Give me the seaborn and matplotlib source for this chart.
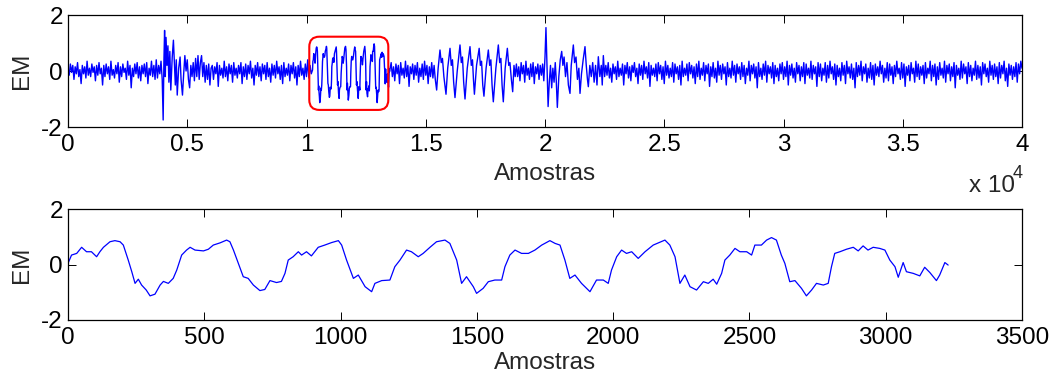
import numpy as np
import pandas as pd
import matplotlib
matplotlib.use("Agg")
import matplotlib.pyplot as plt
import seaborn as sns
from matplotlib.patches import FancyBboxPatch
from matplotlib.transforms import IdentityTransform

# ---------------- data ----------------
# Bottom panel: zoomed EMG segment (sample index, value)
bot_x = [0, 13, 32, 50, 68, 86, 105, 117, 130, 154,
         172, 191, 203, 221, 234, 246, 258, 270, 287, 301,
         319, 338, 350, 368, 386, 399, 417, 435, 448, 466,
         497, 515, 533, 558, 582, 594, 607, 625, 643, 661,
         680, 704, 722, 741, 765, 783, 796, 808, 826, 845,
         857, 875, 893, 918, 942, 967, 992, 1004, 1022, 1047,
         1065, 1090, 1114, 1126, 1151, 1181, 1199, 1218, 1242, 1260,
         1285, 1303, 1328, 1352, 1383, 1401, 1426, 1444, 1462, 1487,
         1499, 1523, 1542, 1566, 1591, 1603, 1621, 1640, 1664, 1689,
         1713, 1738, 1768, 1787, 1805, 1823, 1841, 1860, 1884, 1915,
         1939, 1964, 1982, 1994, 2013, 2031, 2049, 2068, 2092, 2117,
         2147, 2190, 2208, 2227, 2245, 2263, 2282, 2306, 2331, 2349,
         2367, 2380, 2398, 2410, 2428, 2447, 2465, 2490, 2508, 2520,
         2544, 2563, 2581, 2599, 2617, 2630, 2648, 2667, 2691, 2709,
         2728, 2746, 2771, 2789, 2801, 2813, 2832, 2856, 2881, 2899,
         2917, 2935, 2954, 2978, 2997, 3015, 3034, 3046, 3064, 3076,
         3101, 3125, 3143, 3162, 3186, 3198, 3217, 3229]
bot_y = [0.04, 0.34, 0.40, 0.62, 0.46, 0.46, 0.28, 0.46, 0.62, 0.82,
         0.86, 0.82, 0.70, 0.16, -0.26, -0.68, -0.53, -0.74, -0.92, -1.13,
         -1.07, -0.74, -0.61, -0.68, -0.50, -0.20, 0.34, 0.52, 0.62, 0.52,
         0.49, 0.55, 0.70, 0.78, 0.88, 0.82, 0.52, 0.04, -0.44, -0.50,
         -0.74, -0.94, -0.90, -0.58, -0.65, -0.61, -0.32, 0.16, 0.28, 0.46,
         0.34, 0.46, 0.31, 0.62, 0.70, 0.79, 0.86, 0.70, 0.16, -0.50,
         -0.38, -0.80, -0.98, -0.68, -0.58, -0.56, -0.08, 0.16, 0.52, 0.46,
         0.28, 0.40, 0.62, 0.82, 0.88, 0.76, 0.16, -0.68, -0.44, -0.80,
         -1.04, -0.86, -0.62, -0.56, -0.56, -0.08, 0.34, 0.52, 0.40, 0.40,
         0.52, 0.70, 0.86, 0.76, 0.70, 0.16, -0.50, -0.38, -0.68, -0.98,
         -0.56, -0.56, -0.68, -0.20, 0.28, 0.52, 0.40, 0.46, 0.22, 0.46,
         0.70, 0.88, 0.70, 0.28, -0.68, -0.38, -0.80, -0.92, -0.62, -0.68,
         -0.53, -0.71, -0.32, 0.16, 0.34, 0.58, 0.46, 0.46, 0.34, 0.70,
         0.70, 0.88, 0.97, 0.88, 0.34, 0.04, -0.62, -0.58, -0.86, -1.13,
         -0.92, -0.68, -0.74, -0.68, -0.08, 0.40, 0.46, 0.55, 0.62, 0.49,
         0.67, 0.52, 0.62, 0.58, 0.52, 0.16, -0.08, -0.46, 0.07, -0.26,
         -0.32, -0.41, -0.10, -0.29, -0.58, -0.38, 0.07, -0.02]

# Top panel: the full recording. The zoomed segment above starts here:
BOX_START = 10254

# Baseline noise segments (start sample, values every 50 samples)
NOISE_STEP = 50
noise_a_start = 0
noise_a = [0.1, -0.15, 0.25, -0.05, 0.2, -0.3, 0.15, -0.1, 0.3, -0.2,
           0.05, -0.45, 0.2, -0.1, 0.15, -0.25, 0.35, -0.15, 0.1, -0.2,
           0.25, -0.05, 0.15, -0.35, 0.2, -0.15, 0.3, -0.1, 0.1, -0.5,
           0.2, -0.2, 0.25, -0.1, 0.15, -0.3, 0.35, -0.15, 0.05, -0.25,
           0.2, -0.1, 0.3, -0.4, 0.15, -0.2, 0.25, -0.05, 0.1, -0.3,
           0.35, -0.15, 0.2, -0.6, 0.1, -0.2, 0.25, -0.1, 0.3, -0.25,
           0.15, -0.35, 0.2, -0.1, 0.25, -0.2, 0.3, -0.45, 0.1, -0.15,
           0.35, -0.2, 0.2, -0.3, 0.4, -0.25, 0.2]
noise_b_start = 6050
noise_b = [0.2, -0.3, 0.15, -0.1, 0.3, -0.55, 0.2, -0.15, 0.1, -0.25,
           0.35, -0.2, 0.15, -0.35, 0.25, -0.1, 0.2, -0.4, 0.3, -0.15,
           0.1, -0.25, 0.2, -0.1, 0.3, -0.45, 0.15, -0.2, 0.25, -0.3,
           0.2, -0.1, 0.35, -0.25, 0.1, -0.5, 0.2, -0.15, 0.3, -0.2,
           0.15, -0.35, 0.25, -0.1, 0.2, -0.3, 0.3, -0.2, 0.1, -0.4,
           0.25, -0.15, 0.2, -0.25, 0.35, -0.1, 0.15, -0.3, 0.2, -0.45,
           0.3, -0.2, 0.1, -0.15, 0.25, -0.35, 0.2, -0.1, 0.3, -0.25,
           0.15, -0.5, 0.2, -0.2, 0.35, -0.15, 0.1, -0.3, 0.25, -0.2,
           0.4, -0.25, 0.2, -0.1]
noise_c_start = 13550
noise_c = [0.3, -0.2, 0.15, -0.35, 0.25, -0.1, 0.2, -0.45, 0.3, -0.15,
           0.1, -0.25, 0.35, -0.2, 0.2, -0.55, 0.15, -0.1, 0.25, -0.3,
           0.2, -0.15, 0.3, -0.4, 0.1, -0.2, 0.25, -0.3, 0.35, -0.15,
           0.2, -0.45, 0.15, -0.2, 0.3, -0.25]
noise_d_start = 18800
noise_d = [0.25, -0.2, 0.15, -0.35, 0.3, -0.1, 0.2, -0.4, 0.35, -0.15,
           0.1, -0.3, 0.25, -0.2, 0.3, -0.45, 0.15, -0.1, 0.25, -0.3,
           0.2, -0.15]
noise_e_start = 22550
noise_e = [0.2, -0.15, 0.3, -0.25, 0.1, -0.4, 0.25, -0.1, 0.15, -0.3,
           0.35, -0.2, 0.1, -0.15, 0.25, -0.5, 0.2, -0.1, 0.3, -0.25,
           0.15, -0.35, 0.2, -0.05, 0.3, -0.2, 0.1, -0.45, 0.25, -0.15,
           0.2, -0.3, 0.35, -0.1, 0.15, -0.25, 0.3, -0.55, 0.2, -0.15,
           0.1, -0.2, 0.25, -0.35, 0.3, -0.1, 0.2, -0.3, 0.15, -0.45,
           0.35, -0.15, 0.2, -0.25, 0.1, -0.2, 0.3, -0.4, 0.25, -0.1,
           0.15, -0.3, 0.2, -0.5, 0.35, -0.2, 0.1, -0.15, 0.25, -0.35,
           0.3, -0.1, 0.2, -0.25, 0.15, -0.45, 0.25, -0.2, 0.35, -0.3,
           0.1, -0.15, 0.3, -0.35, 0.2, -0.1, 0.25, -0.55, 0.15, -0.2,
           0.3, -0.25, 0.1, -0.4, 0.35, -0.15, 0.2, -0.3, 0.25, -0.1,
           0.15, -0.5, 0.3, -0.2, 0.1, -0.25, 0.35, -0.15, 0.2, -0.4,
           0.25, -0.1, 0.15, -0.3, 0.3, -0.2, 0.2, -0.45, 0.1, -0.15,
           0.35, -0.35, 0.2, -0.1, 0.25, -0.25, 0.15, -0.6, 0.3, -0.2,
           0.1, -0.3, 0.25, -0.15, 0.35, -0.4, 0.2, -0.1, 0.15, -0.25,
           0.3, -0.45, 0.2, -0.2, 0.1, -0.35, 0.25, -0.1, 0.3, -0.3,
           0.15, -0.2, 0.35, -0.5, 0.2, -0.15, 0.25, -0.25, 0.1, -0.4,
           0.3, -0.1, 0.2, -0.35, 0.15, -0.2, 0.3, -0.45, 0.25, -0.15,
           0.1, -0.25, 0.35, -0.3, 0.2, -0.1, 0.15, -0.55, 0.3, -0.2,
           0.25, -0.35, 0.1, -0.15, 0.3, -0.4, 0.2, -0.25, 0.35, -0.1,
           0.15, -0.3, 0.25, -0.5, 0.2, -0.2, 0.1, -0.35, 0.3, -0.15,
           0.2, -0.45, 0.35, -0.1, 0.15, -0.25, 0.25, -0.3, 0.1, -0.6,
           0.3, -0.2, 0.2, -0.15, 0.35, -0.35, 0.15, -0.1, 0.25, -0.4,
           0.1, -0.25, 0.3, -0.3, 0.2, -0.5, 0.25, -0.15, 0.15, -0.2,
           0.35, -0.1, 0.2, -0.4, 0.1, -0.25, 0.3, -0.35, 0.25, -0.15,
           0.15, -0.45, 0.2, -0.2, 0.35, -0.1, 0.1, -0.3, 0.3, -0.25,
           0.25, -0.55, 0.15, -0.15, 0.2, -0.35, 0.3, -0.1, 0.1, -0.4,
           0.35, -0.2, 0.25, -0.3, 0.15, -0.15, 0.2, -0.45, 0.3, -0.25,
           0.1, -0.1, 0.35, -0.35, 0.2, -0.2, 0.25, -0.5, 0.15, -0.3,
           0.3, -0.15, 0.1, -0.25, 0.35, -0.4, 0.2, -0.1, 0.25, -0.35,
           0.15, -0.2, 0.3, -0.6, 0.2, -0.15, 0.1, -0.3, 0.35, -0.25,
           0.25, -0.1, 0.15, -0.45, 0.3, -0.2, 0.2, -0.35, 0.1, -0.15,
           0.35, -0.3, 0.2, -0.25, 0.15, -0.5, 0.3, -0.1, 0.25, -0.2,
           0.1, -0.4, 0.35, -0.15, 0.2, -0.3, 0.25, -0.2, 0.15, -0.45,
           0.3, -0.25, 0.2, -0.1, 0.35, -0.35, 0.1, -0.55, 0.25, -0.15,
           0.2, -0.3, 0.15, -0.2, 0.3, -0.4, 0.25, -0.1, 0.35, 0.1]

# Bursts (sample, value)
b1_x = [3850, 3900, 3950, 3990, 4020, 4050, 4080, 4110, 4150, 4190,
        4230, 4270, 4310, 4370, 4420, 4460, 4500, 4540, 4580, 4640,
        4700, 4740, 4800, 4850, 4900, 4950, 5000, 5050, 5100, 5150,
        5200, 5250, 5300, 5350, 5400, 5450, 5500, 5550, 5600, 5650,
        5700, 5750, 5800, 5850, 5900, 5950, 6000]
b1_y = [-0.1, 0.35, -0.3, -1.75, 0.3, 1.45, -0.2, 1.2, 0.2, 0.9,
        -0.4, 0.7, -0.68, 0.5, 1.1, 0.3, -0.5, 0.4, -0.86, 0.1,
        0.5, -0.3, -0.86, -0.1, 0.55, 0.0, 0.4, -0.3, -0.6, 0.2,
        -0.2, 0.3, -0.35, 0.45, -0.2, 0.55, -0.3, 0.3, 0.55, -0.2,
        0.3, -0.4, 0.2, -0.3, 0.25, -0.5, 0.1]
b2_x = [15350, 15400, 15457, 15520, 15597, 15650, 15700, 15760, 15849, 15920,
        16017, 16070, 16120, 16170, 16226, 16320, 16436, 16490, 16540, 16590,
        16646, 16740, 16855, 16910, 16960, 17000, 17040, 17130, 17240, 17290,
        17340, 17390, 17440, 17530, 17624, 17680, 17730, 17780, 17833, 17940,
        18043, 18100, 18150, 18200, 18252, 18330, 18421, 18480, 18530, 18590,
        18645, 18700, 18750]
b2_y = [0.2, -0.3, -0.68, 0.1, 0.75, 0.3, 0.45, -0.2, -0.83, 0.1,
        0.81, 0.2, 0.4, -0.4, -0.95, 0.0, 0.93, 0.3, 0.5, -0.4,
        -1.0, 0.1, 0.87, 0.2, 0.4, -0.3, -0.83, 0.2, 0.81, 0.2,
        0.35, -0.5, -0.9, 0.1, 0.75, 0.2, 0.4, -0.5, -1.1, 0.1,
        0.93, 0.3, 0.45, -0.5, -1.1, 0.1, 0.81, 0.2, 0.3, -0.3,
        -0.74, 0.2, -0.2]
b3_x = [19900, 19950, 20000, 20040, 20080, 20130, 20180, 20230, 20280, 20330,
        20380, 20430, 20470, 20517, 20580, 20640, 20700, 20750, 20800, 20860,
        20920, 20980, 21048, 21100, 21188, 21240, 21300, 21360, 21420, 21468,
        21530, 21600, 21677, 21730, 21780, 21817, 21880, 21940, 22000, 22060,
        22120, 22180, 22236, 22300, 22360, 22400, 22446, 22500]
b3_y = [0.25, -0.35, 0.5, 1.55, 0.3, -1.27, -0.4, 0.2, -0.6, 0.1,
        -0.4, 0.3, -0.3, -1.3, -0.2, 0.4, 0.7, 0.2, 0.5, -0.2,
        0.3, -0.5, -0.8, 0.2, 0.93, 0.3, 0.5, -0.3, 0.1, -0.8,
        -0.1, 0.4, 0.87, 0.2, -0.3, -0.56, 0.2, -0.2, 0.3, -0.4,
        0.2, -0.5, 0.51, -0.2, 0.2, -0.5, 0.55, -0.2]

top_ticks = [0, 5000, 10000, 15000, 20000, 25000, 30000, 35000, 40000]
top_tick_labels = ["0", "0.5", "1", "1.5", "2", "2.5", "3", "3.5", "4"]
bot_ticks = [0, 500, 1000, 1500, 2000, 2500, 3000, 3500]
bot_tick_labels = ["0", "500", "1000", "1500", "2000", "2500", "3000", "3500"]
y_ticks = [-2, 0, 2]
y_tick_labels = ["-2", "0", "2"]
box_x = [10117, 13430]
box_y = [-1.39, 1.225]

# ---------------- assemble top series ----------------
def noise_seg(start, vals):
    return list(start + NOISE_STEP * np.arange(len(vals))), list(vals)

pieces = [
    noise_seg(noise_a_start, noise_a),
    (b1_x, b1_y),
    noise_seg(noise_b_start, noise_b),
    (list(np.array(bot_x) + BOX_START), bot_y),
    noise_seg(noise_c_start, noise_c),
    (b2_x, b2_y),
    noise_seg(noise_d_start, noise_d),
    (b3_x, b3_y),
    noise_seg(noise_e_start, noise_e),
]
top_x, top_y = [], []
for px, py in pieces:
    top_x += list(px)
    top_y += list(py)
top_df = pd.DataFrame({"Amostras": top_x, "EM": top_y})
bot_df = pd.DataFrame({"Amostras": bot_x, "EM": bot_y})

# ---------------- figure ----------------
sns.set_style("ticks")
plt.rcParams["font.family"] = ["Liberation Sans", "DejaVu Sans"]
FS = 17.5
W, H = 1054, 376
fig = plt.figure(figsize=(W / 100, H / 100), dpi=100)
ax1 = fig.add_axes([68 / W, (H - 127) / H, 954 / W, 112 / H])
ax2 = fig.add_axes([68 / W, (H - 320) / H, 954 / W, 111 / H])

sns.lineplot(data=top_df, x="Amostras", y="EM", ax=ax1, color="#0000ff",
             linewidth=1.0, estimator=None, sort=False)
sns.lineplot(data=bot_df, x="Amostras", y="EM", ax=ax2, color="#0000ff",
             linewidth=0.9, estimator=None, sort=False)

ax1.set_xlim(0, 40000)
ax2.set_xlim(0, 3500)
ax1.set_xticks(top_ticks)
ax1.set_xticklabels(top_tick_labels)
ax2.set_xticks(bot_ticks)
ax2.set_xticklabels(bot_tick_labels)

for ax, lp in ((ax1, 5.0), (ax2, 2.2)):
    ax.set_ylim(-2, 2)
    ax.set_yticks(y_ticks)
    ax.set_yticklabels(y_tick_labels)
    ax.tick_params(direction="in", length=5.8, width=0.7, top=True, right=True,
                   labelsize=FS, colors="black")
    ax.tick_params(axis="x", pad=5.0)
    ax.tick_params(axis="y", pad=3.6)
    for s in ax.spines.values():
        s.set_visible(True)
        s.set_linewidth(0.9)
        s.set_color("black")
    ax.set_xlabel("Amostras", fontsize=FS, labelpad=lp)
    ax.set_ylabel("EM", fontsize=FS, labelpad=6)
    ax.grid(False)

# red rounded box highlighting the zoomed segment
p0 = ax1.transData.transform((box_x[0], box_y[0]))
p1 = ax1.transData.transform((box_x[1], box_y[1]))
box = FancyBboxPatch((p0[0], p0[1]), p1[0] - p0[0], p1[1] - p0[1],
                     boxstyle="round,pad=0,rounding_size=10",
                     transform=IdentityTransform(), fill=False,
                     edgecolor="#ff0000", linewidth=1.5, clip_on=False, zorder=5)
ax1.add_patch(box)

# axis multiplier "x 10^4"
fig.text(969 / W, (H - 192) / H, "x 10", fontsize=FS, ha="left", va="baseline")
fig.text(1013 / W, (H - 178) / H, "4", fontsize=13, ha="left", va="baseline")

fig.savefig("out.png", dpi=100)
